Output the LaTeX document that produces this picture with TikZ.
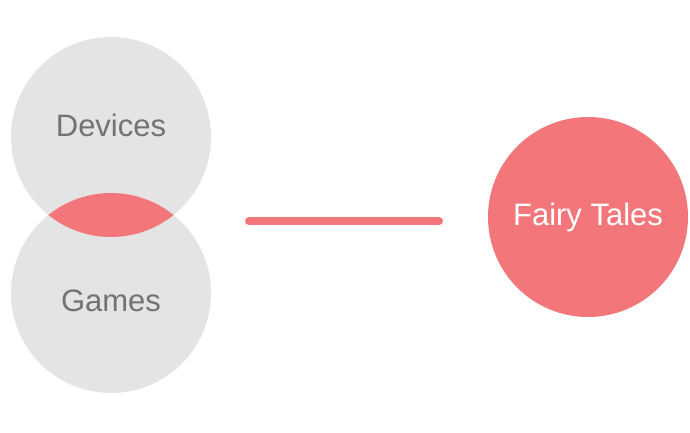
\documentclass[tikz,border=0pt]{standalone}
\usepackage{fontspec}
\setmainfont{Liberation Sans}
\usetikzlibrary{positioning}
\definecolor{topicgray}{HTML}{E4E4E4}
\definecolor{labelgray}{HTML}{737373}
\definecolor{tale}{HTML}{F2767A}

\begin{document}
\begin{tikzpicture}[x=1pt,y=-1pt,c/.style={circle,inner sep=0pt,minimum size=200pt,fill=topicgray},t/.style={font=\fontsize{31}{31}\selectfont,text=labelgray},a/.style={line width=8pt,line cap=round,draw=tale}]
\useasboundingbox (0,0) rectangle (690,432);
\node[c](dev) at (111,137){};
\node[c](games) at (111,293){};
\begin{scope}
\clip (111,137) circle (100);
\fill[tale] (111,293) circle (100);
\end{scope}
\node[t] at (111,125){Devices};
\node[t] at (111,301){Games};
\node[c,fill=tale,text=white,font=\fontsize{31}{31}\selectfont](tales) at (588,217){Fairy Tales};
\coordinate (from) at (249,221);\coordinate (to) at (439,221);
\draw[a](from)--(to);
\end{tikzpicture}
\end{document}
